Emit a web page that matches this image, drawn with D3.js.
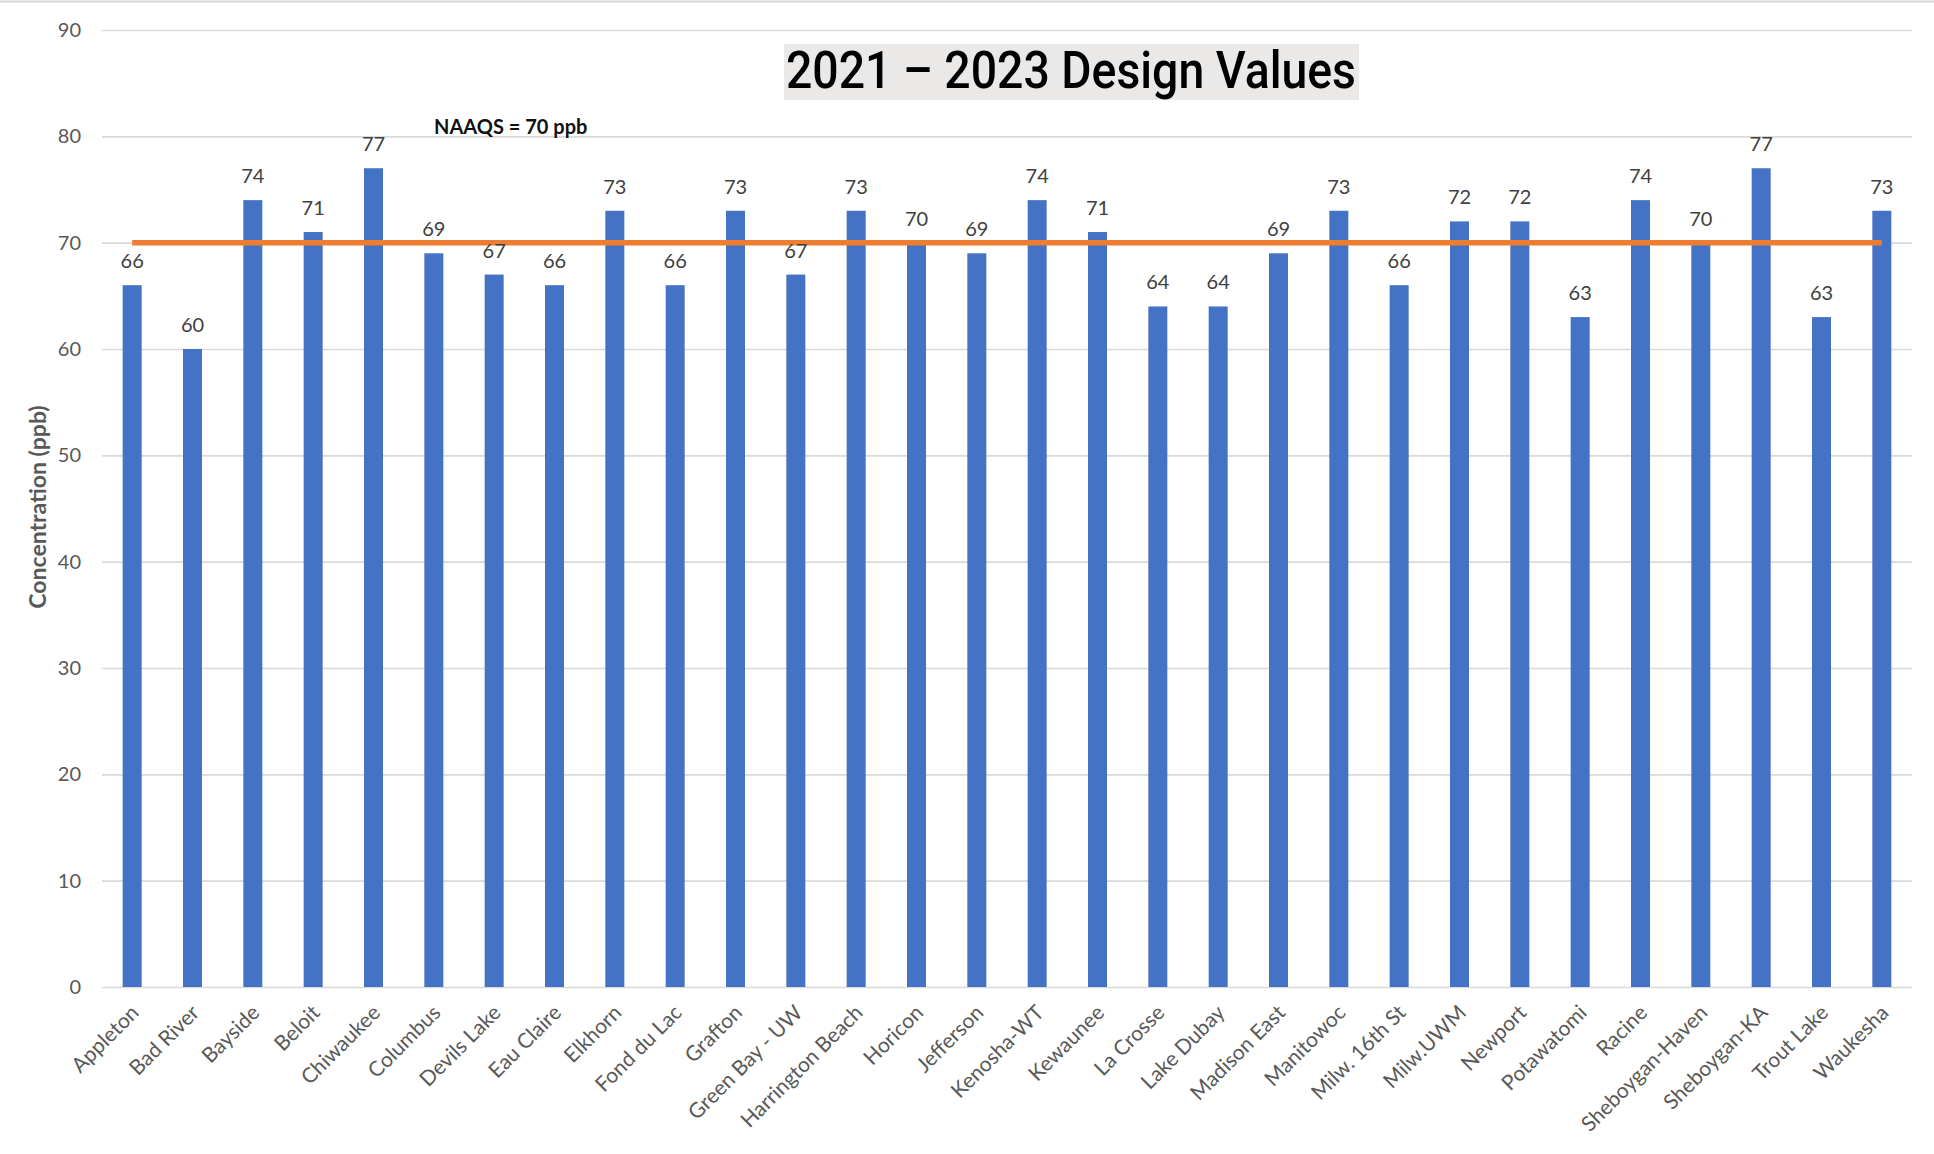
<!DOCTYPE html>
<html>
<head>
<meta charset="utf-8">
<script src="https://cdn.jsdelivr.net/npm/d3@7"></script>
<style>
  html, body { margin: 0; padding: 0; background: #ffffff; }
  svg { display: block; }
</style>
</head>
<body>
<svg id="chart" width="1934" height="1154"></svg>
<script>
const sites = ["Appleton","Bad River","Bayside","Beloit","Chiwaukee","Columbus","Devils Lake","Eau Claire","Elkhorn","Fond du Lac","Grafton","Green Bay - UW","Harrington Beach","Horicon","Jefferson","Kenosha-WT","Kewaunee","La Crosse","Lake Dubay","Madison East","Manitowoc","Milw. 16th St","Milw.UWM","Newport","Potawatomi","Racine","Sheboygan-Haven","Sheboygan-KA","Trout Lake","Waukesha"];
const designValues = [66,60,74,71,77,69,67,66,73,66,73,67,73,70,69,74,71,64,64,69,73,66,72,72,63,74,70,77,63,73];
const yTicks = [0,10,20,30,40,50,60,70,80,90];
const naaqs = 70;
const titleText = "2021 \u2013 2023 Design Values";
const naaqsLabel = "NAAQS = 70 ppb";
const yAxisTitle = "Concentration (ppb)";

const svg = d3.select("#chart");
const plotLeft = 102, plotRight = 1912, plotTop = 30, plotBottom = 987;

const x = d3.scaleBand().domain(sites).range([plotLeft, plotRight]).paddingInner(0.685).paddingOuter(0.3425);
const y = d3.scaleLinear().domain([0, 90]).range([plotBottom, plotTop]);

// top frame line
svg.append("line").attr("x1", 0).attr("x2", 1934).attr("y1", 1.5).attr("y2", 1.5)
  .attr("stroke", "#d9d9d9").attr("stroke-width", 2);

// gridlines + y tick labels via axis
const yAxis = d3.axisLeft(y).tickValues(yTicks).tickSize(-(plotRight - plotLeft)).tickPadding(21).tickFormat(d3.format("d"));
const gy = svg.append("g").attr("transform", `translate(${plotLeft},0)`).call(yAxis);
gy.select(".domain").remove();
gy.selectAll(".tick line").attr("stroke", "#d9d9d9").attr("stroke-width", 1.6);
gy.selectAll(".tick text").attr("fill", "#595959").style("font-family", "Lato, 'Open Sans', sans-serif").style("font-size", "20px");

// bars
svg.append("g").selectAll("rect").data(sites).join("rect")
  .attr("x", d => x(d))
  .attr("y", (d, i) => y(designValues[i]))
  .attr("width", x.bandwidth())
  .attr("height", (d, i) => y(0) - y(designValues[i]))
  .attr("fill", "#4472C4");

// NAAQS line
const cx = d => x(d) + x.bandwidth() / 2;
svg.append("line")
  .attr("x1", cx(sites[0])).attr("x2", cx(sites[sites.length - 1]))
  .attr("y1", y(naaqs)).attr("y2", y(naaqs))
  .attr("stroke", "#ED7D31").attr("stroke-width", 5.5);

// value labels
svg.append("g").selectAll("text").data(sites).join("text")
  .attr("x", d => cx(d))
  .attr("y", (d, i) => y(designValues[i]) - 17)
  .attr("text-anchor", "middle")
  .attr("fill", "#404040")
  .style("font-family", "Lato, 'Open Sans', sans-serif")
  .style("font-size", "20px")
  .text((d, i) => designValues[i]);

// x axis labels
svg.append("g").selectAll("text").data(sites).join("text")
  .attr("transform", d => `translate(${cx(d) + 8},${plotBottom + 27}) rotate(-45)`)
  .attr("text-anchor", "end")
  .attr("fill", "#595959")
  .style("font-family", "Lato, 'Open Sans', sans-serif")
  .style("font-size", "21px")
  .text(d => d);

// y axis title
svg.append("text")
  .attr("transform", `translate(46,507) rotate(-90)`)
  .attr("text-anchor", "middle")
  .attr("fill", "#595959")
  .style("font-family", "Lato, 'Open Sans', sans-serif")
  .style("font-size", "23px")
  .style("font-weight", "700")
  .text(yAxisTitle);

// NAAQS label
svg.append("text")
  .attr("x", 434).attr("y", 134)
  .attr("fill", "#111111")
  .style("font-family", "Lato, 'Open Sans', sans-serif")
  .style("font-size", "20px")
  .style("font-weight", "700")
  .text(naaqsLabel);

// title with background box
svg.append("rect").attr("x", 784).attr("y", 44).attr("width", 575).attr("height", 56).attr("fill", "#ebe9e7");
svg.append("text")
  .attr("x", 1071).attr("y", 88)
  .attr("text-anchor", "middle")
  .attr("textLength", 570).attr("lengthAdjust", "spacingAndGlyphs")
  .attr("fill", "#000000")
  .style("font-family", "Roboto, 'Open Sans', sans-serif")
  .style("font-size", "52px")
  .style("font-weight", "500")
  .text(titleText);
</script>
</body>
</html>
